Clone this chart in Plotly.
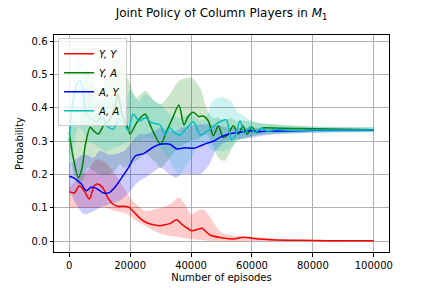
import plotly.graph_objects as go

# ---- mean curves ----
yy_x = [0,1700,3300,4900,6600,8200,9300,11000,12600,14300,15900,18100,19700,21300,22900,24400,26600,29800,31000,33000,35300,37000,40200,41800,43500,46200,50500,54000,57000,62000,66000,75000,85000,100000]
yy_y = [0.148,0.144,0.166,0.151,0.126,0.166,0.171,0.160,0.131,0.111,0.104,0.104,0.101,0.086,0.071,0.060,0.051,0.046,0.048,0.052,0.064,0.050,0.031,0.034,0.038,0.018,0.009,0.006,0.011,0.006,0.004,0.002,0.001,0.001]

ay_x = [0,1700,4000,5600,7200,8900,11200,13300,15000,17300,19500,21700,24400,27700,29800,33100,35300,38000,40800,43000,45100,47500,49500,52800,56000,59300,62000,66000,70000,80000,90000,100000]
ay_y = [0.194,0.188,0.171,0.151,0.161,0.158,0.144,0.146,0.161,0.191,0.221,0.255,0.262,0.282,0.290,0.290,0.276,0.280,0.278,0.285,0.293,0.300,0.311,0.322,0.326,0.331,0.328,0.330,0.330,0.332,0.333,0.333]

ya_x = [0,1400,3000,4150,5250,6900,8000,9600,11200,13400,15000,16000,17500,19000,20000,21600,23000,25000,26500,28000,30000,32000,34000,36000,37700,39000,40800,42500,44000,45700,47300,49000,50500,52000,53900,55500,57000,58500,60000,61500,63000,64800,70000,80000,90000,100000]
ya_y = [0.326,0.246,0.190,0.216,0.286,0.341,0.331,0.321,0.346,0.366,0.400,0.441,0.376,0.346,0.321,0.346,0.366,0.380,0.350,0.320,0.290,0.330,0.370,0.408,0.348,0.373,0.386,0.373,0.375,0.360,0.316,0.346,0.311,0.318,0.346,0.320,0.345,0.320,0.342,0.325,0.338,0.340,0.338,0.337,0.335,0.334]

aa_x = [0,1000,2700,3600,4700,5800,7400,9000,10700,12300,14500,16200,17800,19400,21000,23000,25000,27000,29800,31500,33000,34500,36400,38500,40800,43000,45000,47000,48600,50000,51600,53300,54500,56100,57500,59400,61000,63000,65000,68000,72000,80000,90000,100000]
aa_y = [0.300,0.406,0.476,0.481,0.436,0.376,0.366,0.356,0.376,0.346,0.336,0.366,0.356,0.331,0.381,0.360,0.370,0.355,0.348,0.318,0.340,0.325,0.318,0.338,0.358,0.318,0.328,0.340,0.353,0.360,0.363,0.303,0.315,0.361,0.323,0.343,0.325,0.338,0.330,0.335,0.332,0.333,0.333,0.333]

# ---- confidence bands ----
yy_bx = [0,3000,6000,9000,12000,15000,18000,20000,22000,25000,28000,30000,33000,36000,38000,40000,42000,44000,46000,48000,50000,55000,60000,65000,70000,80000,100000]
yy_hi = [0.16,0.19,0.21,0.245,0.235,0.20,0.16,0.13,0.11,0.09,0.095,0.10,0.11,0.13,0.11,0.08,0.09,0.095,0.075,0.045,0.025,0.015,0.012,0.010,0.005,0.003,0.002]
yy_lo = [0.10,0.10,0.10,0.10,0.10,0.09,0.085,0.075,0.06,0.045,0.03,0.022,0.015,0.012,0.008,0.005,0.004,0.002,0.0,0.0,0.0,0.0,0.0,0.0,0.0,0.0,0.0]

ay_bx = [0,3000,5000,8000,10000,13000,15000,18000,20000,23000,25000,28000,30000,33000,35000,37000,40000,43000,46000,48000,50000,52000,55000,60000,65000,70000,80000,100000]
ay_hi = [0.23,0.25,0.26,0.25,0.27,0.26,0.26,0.27,0.29,0.32,0.32,0.33,0.34,0.33,0.33,0.34,0.345,0.35,0.35,0.345,0.345,0.34,0.34,0.34,0.338,0.337,0.336,0.336]
ay_lo = [0.15,0.10,0.08,0.09,0.10,0.11,0.115,0.13,0.15,0.18,0.19,0.21,0.22,0.20,0.19,0.20,0.20,0.20,0.23,0.27,0.29,0.30,0.305,0.31,0.318,0.322,0.325,0.328]

ya_bx = [0,1500,3000,4500,6000,8000,10000,13000,15000,16500,18000,20000,22000,25000,28000,30000,33000,36000,40000,43000,45000,47000,49000,51000,53000,55000,58000,62000,70000,80000,100000]
ya_hi = [0.37,0.36,0.34,0.45,0.52,0.47,0.45,0.50,0.54,0.55,0.52,0.47,0.43,0.45,0.42,0.41,0.44,0.48,0.49,0.46,0.40,0.37,0.37,0.36,0.37,0.36,0.36,0.355,0.348,0.344,0.342]
ya_lo = [0.27,0.20,0.17,0.18,0.22,0.21,0.20,0.20,0.21,0.23,0.22,0.23,0.24,0.26,0.24,0.22,0.25,0.28,0.30,0.31,0.32,0.29,0.25,0.24,0.27,0.30,0.31,0.318,0.324,0.327,0.328]

aa_bx = [0,1500,3000,4500,6000,8000,10000,12000,15000,18000,20000,23000,25000,28000,30000,33000,36000,40000,43000,45000,47000,49000,51000,53000,55000,58000,62000,70000,80000,100000]
aa_hi = [0.36,0.50,0.55,0.54,0.47,0.42,0.42,0.43,0.44,0.42,0.45,0.42,0.44,0.42,0.41,0.38,0.37,0.38,0.36,0.37,0.42,0.43,0.43,0.42,0.39,0.37,0.355,0.348,0.343,0.340]
aa_lo = [0.20,0.28,0.34,0.33,0.30,0.29,0.28,0.27,0.28,0.29,0.30,0.30,0.31,0.30,0.28,0.24,0.20,0.25,0.29,0.29,0.27,0.27,0.27,0.28,0.30,0.31,0.318,0.322,0.325,0.326]

labels = ["<i>Y, Y</i>", "<i>Y, A</i>", "<i>A, Y</i>", "<i>A, A</i>"]
colors = ["#ff0000", "#008000", "#0000ff", "#00bfbf"]
fills = ["rgba(255,0,0,0.2)", "rgba(0,128,0,0.2)", "rgba(0,0,255,0.2)", "rgba(0,191,191,0.2)"]

means = [(yy_x, yy_y), (ya_x, ya_y), (ay_x, ay_y), (aa_x, aa_y)]
bands = [(yy_bx, yy_lo, yy_hi), (ya_bx, ya_lo, ya_hi), (ay_bx, ay_lo, ay_hi), (aa_bx, aa_lo, aa_hi)]

fig = go.Figure()
for (bx, lo, hi), fc in zip(bands, fills):
    fig.add_trace(go.Scatter(x=bx, y=hi, mode="lines", line=dict(width=0, shape="spline", smoothing=0.8),
                             showlegend=False, hoverinfo="skip"))
    fig.add_trace(go.Scatter(x=bx, y=lo, mode="lines", line=dict(width=0, shape="spline", smoothing=0.8),
                             fill="tonexty", fillcolor=fc, showlegend=False, hoverinfo="skip"))
for (mx, my), c, name in zip(means, colors, labels):
    fig.add_trace(go.Scatter(x=mx, y=my, mode="lines", name=name,
                             line=dict(color=c, width=1.5, shape="spline", smoothing=0.8)))

axis_common = dict(showgrid=True, gridcolor="#b0b0b0", gridwidth=1, zeroline=False,
                   showline=True, linecolor="black", linewidth=1, mirror=True,
                   ticks="outside", ticklen=3.5, tickcolor="black", automargin=False,
                   tickfont=dict(size=10, color="black"))
fig.update_xaxes(range=[-5000, 105000], tickvals=[0, 20000, 40000, 60000, 80000, 100000],
                 ticktext=["0", "20000", "40000", "60000", "80000", "100000"],
                 title=dict(text="Number of episodes", font=dict(size=10, color="black"), standoff=4),
                 **axis_common)
fig.update_yaxes(range=[-0.033, 0.618], tickvals=[0, 0.1, 0.2, 0.3, 0.4, 0.5, 0.6],
                 ticktext=["0.0", "0.1", "0.2", "0.3", "0.4", "0.5", "0.6"],
                 title=dict(text="Probability", font=dict(size=10, color="black"), standoff=6),
                 **axis_common)
# page body adds an 8px offset; figure sized to fit the 432x288 window
fig.update_layout(
    width=424, height=280,
    margin=dict(l=46, r=43, t=27, b=36),
    paper_bgcolor="white", plot_bgcolor="white",
    font=dict(family="DejaVu Sans", size=10, color="black"),
    title=dict(text="Joint Policy of Column Players in <i>M</i><sub>1</sub>", x=0.5, xref="paper",
               y=0.982, yanchor="middle", font=dict(size=12, color="black")),
    legend=dict(x=0.012, y=0.985, xanchor="left", yanchor="top", bgcolor="rgba(255,255,255,0.8)",
                bordercolor="#cccccc", borderwidth=1, font=dict(size=10), itemwidth=30,
                tracegroupgap=0, traceorder="normal"),
)
fig.write_html("out.html")
